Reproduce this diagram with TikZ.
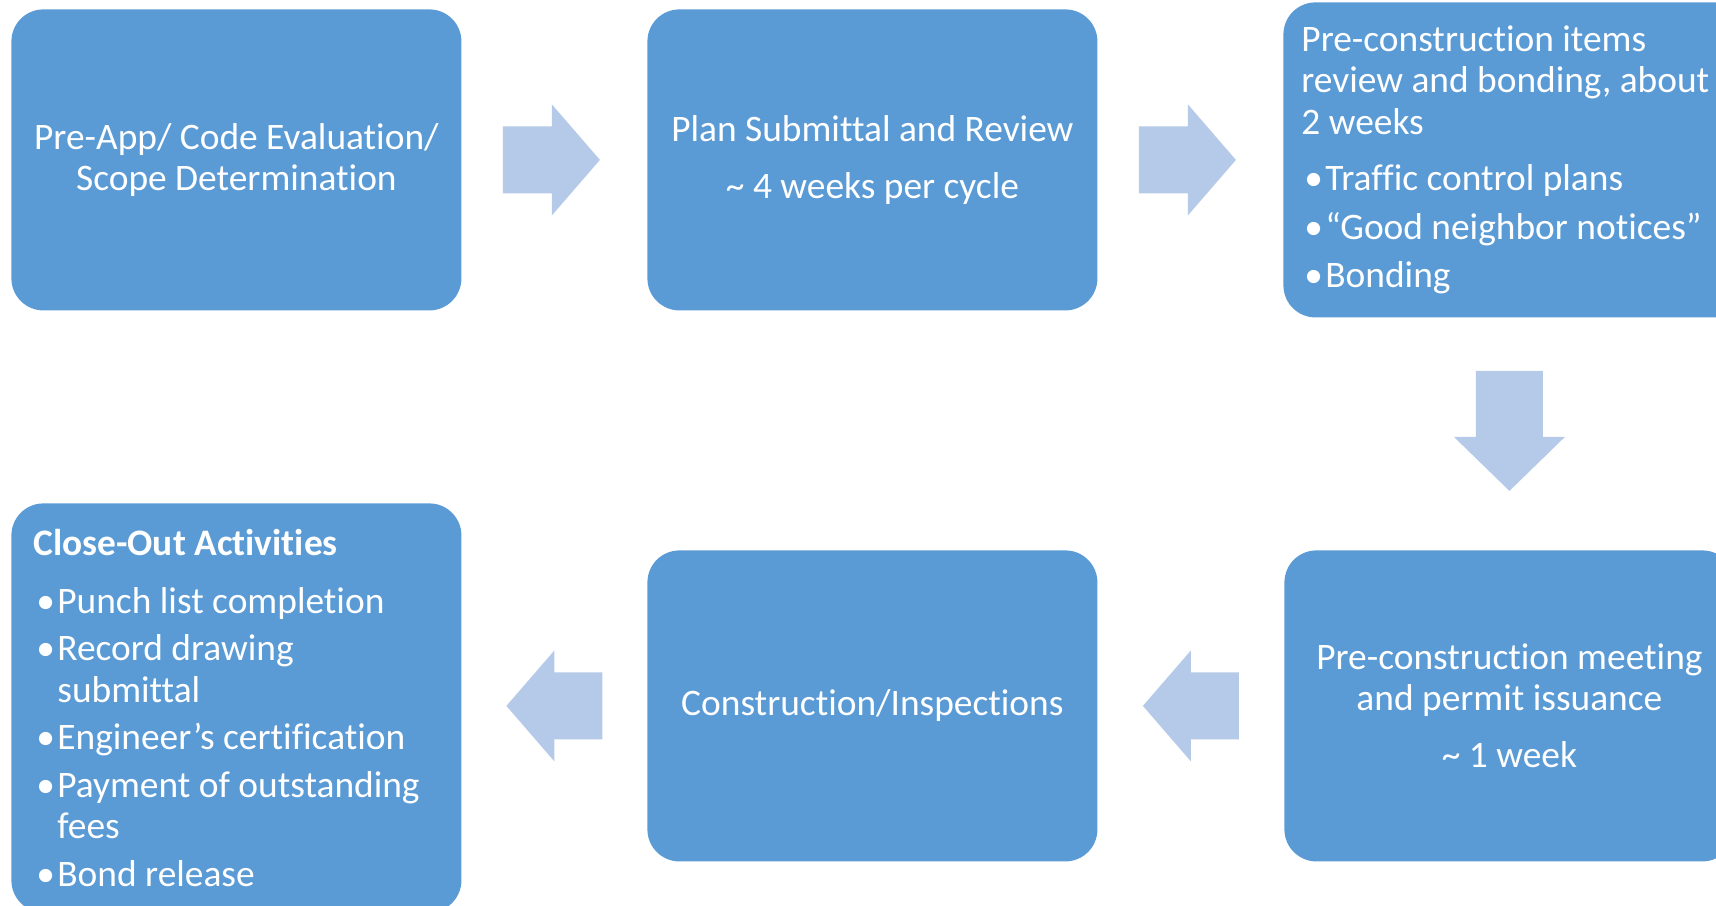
\documentclass[tikz,border=0pt]{standalone}
\usepackage{fontspec}
\setmainfont{Carlito}[Ligatures=NoCommon]
\usetikzlibrary{calc}
\definecolor{boxblue}{RGB}{91,155,213}
\definecolor{arrowblue}{RGB}{181,202,232}
\newcommand{\bul}{\makebox[12pt][l]{\hspace*{1.5pt}\textbullet}}
\newcommand{\hang}{\hspace*{12pt}}
\tikzset{
  stage/.style={fill=boxblue, text=white, rounded corners=16pt, anchor=north west,
    minimum width=225pt, inner ysep=0pt, align=center,
    font=\fontsize{18.7}{20.75}\selectfont},
  stagelist/.style={stage, align=flush left},
  pics/flowarrow/.style 2 args={code={
    \fill[arrowblue] (-#1/2,-33.5) -- (#1/2-#2,-33.5) -- (#1/2-#2,-55.5) -- (#1/2,0)
      -- (#1/2-#2,55.5) -- (#1/2-#2,33.5) -- (-#1/2,33.5) -- cycle;
  }}
}
\begin{document}
\begin{tikzpicture}[x=0.5pt,y=-0.5pt]
\useasboundingbox (0,0) rectangle (1716,905);
% top row
\node[stage, minimum height=150.5pt] (preapp) at (11,9) {Pre-App/ Code Evaluation/\\Scope Determination};
\node[stage, minimum height=150.5pt] (review) at (647,9) {Plan Submittal and Review\\[7.75pt]\textasciitilde\ 4 weeks per cycle};
\node[stagelist, minimum height=157.5pt, inner xsep=9pt, text width=215pt] (items) at (1283,2)
  {Pre-construction items\\review and bonding, about\\2 weeks\\[7.5pt]
   \bul Traffic control plans\\[3.5pt]
   \bul “Good neighbor notices”\\[3.5pt]
   \bul Bonding};
% bottom row
\node[stage, minimum height=155.5pt] (meeting) at (1284,550) {Pre-construction meeting\\and permit issuance\\[7.75pt]\textasciitilde\ 1 week};
\node[stage, minimum height=155.5pt] (build) at (647,550) {Construction/Inspections};
\node[stagelist, minimum height=204.5pt, inner xsep=11pt, text width=203pt] (closeout) at (11,503)
  {\textbf{Close-Out Activities}\\[8pt]
   \bul Punch list completion\\[3pt]
   \bul Record drawing\\\hang submittal\\[3pt]
   \bul Engineer’s certification\\[3pt]
   \bul Payment of outstanding\\\hang fees\\[3pt]
   \bul Bond release};
% arrows
\pic at ($(preapp.east)!.5!(review.west)+(-3,0)$) {flowarrow={97}{48}};
\pic at ($(review.east)!.5!(items.west)+(-3,0)$) {flowarrow={97}{48}};
\pic[rotate=-90] at ($(items.south -| meeting.north)!.5!(meeting.north)+(0,-3)$) {flowarrow={120}{54}};
\pic[rotate=180] at ($(meeting.west)!.5!(build.east)$) {flowarrow={96}{48}};
\pic[rotate=180] at ($(build.west)!.5!(closeout.east |- build.west)$) {flowarrow={96}{48}};
\end{tikzpicture}
\end{document}
